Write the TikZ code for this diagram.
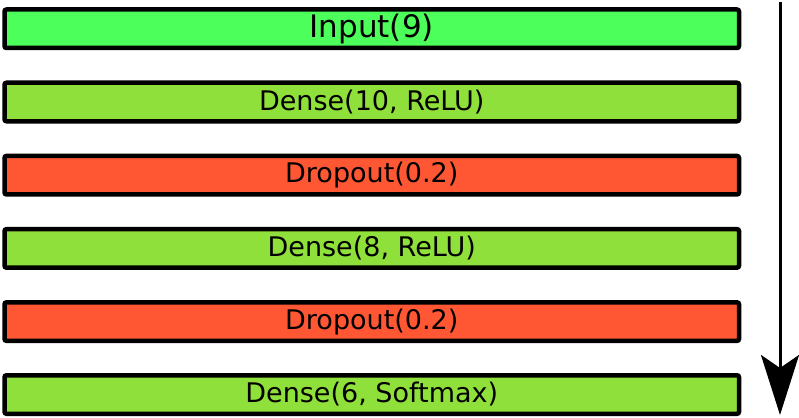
\documentclass[tikz,border=0pt]{standalone}
\usepackage{fontspec}
\setmainfont{DejaVu Sans}
\usetikzlibrary{arrows.meta}
\definecolor{inputgreen}{RGB}{77,255,90}
\definecolor{densegreen}{RGB}{143,224,58}
\definecolor{dropred}{RGB}{255,87,51}
\tikzset{
  layer/.style={draw=black, line width=4.5pt, rounded corners=2pt, rectangle,
    minimum width=734.5pt, minimum height=38.5pt, inner sep=0pt,
    font=\fontsize{27}{30}\selectfont},
  inlayer/.style={layer, fill=inputgreen, font=\fontsize{31}{34}\selectfont},
  denselayer/.style={layer, fill=densegreen},
  droplayer/.style={layer, fill=dropred},
  flow/.style={line width=3pt, -{Stealth[length=60pt,width=38pt,inset=13pt]}}
}
\begin{document}
\begin{tikzpicture}[x=1pt,y=-1pt]
\useasboundingbox (0,0) rectangle (799,417);
\node[inlayer]   (l1) at (371.75,28.75)  {Input(9)};
\node[denselayer](l2) at (371.75,102.0)  {Dense(10, ReLU)};
\node[droplayer] (l3) at (371.75,175.2)  {Dropout(0.2)};
\node[denselayer](l4) at (371.75,248.4)  {Dense(8, ReLU)};
\node[droplayer] (l5) at (371.75,321.6)  {Dropout(0.2)};
\node[denselayer](l6) at (371.75,394.5)  {Dense(6, Softmax)};
\coordinate (atop) at (780,2);
\coordinate (abot) at (780,415);
\draw[flow] (atop) -- (abot);
\end{tikzpicture}
\end{document}
